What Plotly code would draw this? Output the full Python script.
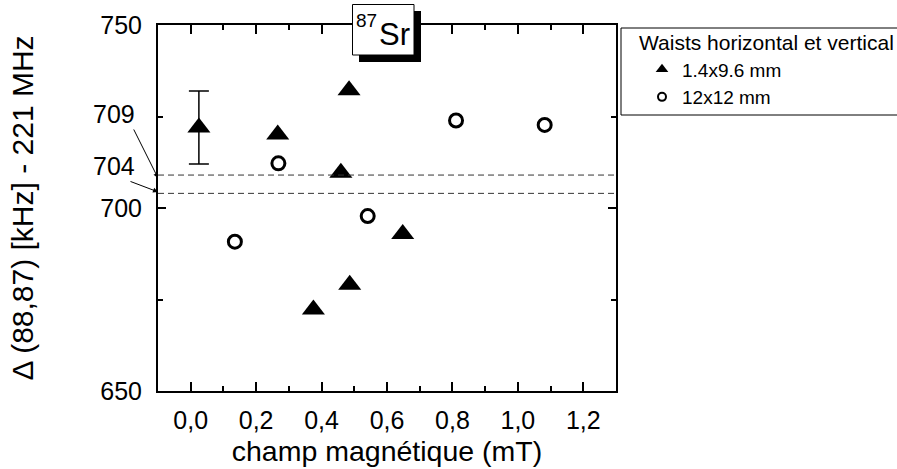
import plotly.graph_objects as go

# ---- data ----
tri_x = [0.025, 0.266, 0.459, 0.484, 0.375, 0.486, 0.648]
tri_y = [722.0, 720.1, 709.6, 732.2, 672.3, 679.0, 692.9]
err_index = 0          # only the first triangle carries an error bar
err_value = 10.0

circ_x = [0.135, 0.268, 0.541, 0.811, 1.082]
circ_y = [690.8, 712.2, 697.8, 723.9, 722.7]

ref_lines = [709, 704]
ref_labels = ["709", "704"]
x_ticks = [0.0, 0.2, 0.4, 0.6, 0.8, 1.0, 1.2]
x_tick_text = ["0,0", "0,2", "0,4", "0,6", "0,8", "1,0", "1,2"]
y_ticks = [650, 700, 750]

series_names = ["1.4x9.6 mm", "12x12 mm"]
legend_title = "Waists horizontal et vertical"

W, H = 897, 469
L, R, T, B = 158, 616, 25, 391
FONT = "Arial, Liberation Sans, sans-serif"


def px(xp):
    return (xp - L) / (R - L)


def py(yp):
    return (B - yp) / (B - T)


fig = go.Figure()

fig.add_trace(go.Scatter(
    x=[tri_x[err_index]], y=[tri_y[err_index]], mode="markers", showlegend=False,
    marker=dict(size=1, color="rgba(0,0,0,0)"),
    error_y=dict(type="constant", value=err_value, visible=True, color="black",
                 thickness=1.5, width=10),
))
fig.add_trace(go.Scatter(
    x=tri_x, y=tri_y, mode="markers", showlegend=False,
    marker=dict(symbol="triangle-up", size=20, color="black"),
))
fig.add_trace(go.Scatter(
    x=circ_x, y=circ_y, mode="markers", showlegend=False,
    marker=dict(symbol="circle-open", size=13, color="black",
                line=dict(width=3, color="black")),
))
# legend entries (smaller symbols as in the reference legend)
fig.add_trace(go.Scatter(
    x=[None], y=[None], mode="markers", name=series_names[0],
    marker=dict(symbol="triangle-up", size=11, color="black"),
))
fig.add_trace(go.Scatter(
    x=[None], y=[None], mode="markers", name=series_names[1],
    marker=dict(symbol="circle-open", size=8, color="black",
                line=dict(width=2, color="black")),
))

shapes = []
for v in ref_lines:
    shapes.append(dict(type="line", xref="paper", yref="y", x0=0, x1=1, y0=v, y1=v,
                       line=dict(color="#333333", width=1, dash="6px,4px")))
# 87Sr label box with shadow
shapes.append(dict(type="rect", xref="paper", yref="paper", layer="above",
                   x0=px(359), x1=px(421), y0=py(62), y1=py(11),
                   fillcolor="black", line=dict(width=0)))
shapes.append(dict(type="rect", xref="paper", yref="paper", layer="above",
                   x0=px(352.5), x1=px(414), y0=py(55), y1=py(4.5),
                   fillcolor="white", line=dict(color="black", width=1)))
# legend frame (runs off the right edge as in the reference)
shapes.append(dict(type="rect", xref="paper", yref="paper", layer="below",
                   x0=px(621), x1=px(910), y0=py(115), y1=py(28),
                   fillcolor="white", line=dict(color="black", width=1)))

annotations = [
    dict(text="87", xref="paper", yref="paper", x=px(366), y=py(20),
         xanchor="center", yanchor="middle",
         showarrow=False, font=dict(family=FONT, size=19, color="black")),
    dict(text="Sr", xref="paper", yref="paper", x=px(394.5), y=py(34),
         xanchor="center", yanchor="middle",
         showarrow=False, font=dict(family=FONT, size=31, color="black")),
]
# labels of the two dashed reference lines, with arrows pointing at them
label_pos = [(114, 114), (114, 166)]
arrow_tail = [(-25, -50), (-29, -11)]
arrow_head_y = [708.2, 704.4]
for txt, (lx, ly), (tx, ty), hy in zip(ref_labels, label_pos, arrow_tail, arrow_head_y):
    annotations.append(dict(text=txt, xref="paper", yref="paper", x=px(lx), y=py(ly),
                            xanchor="center", yanchor="middle", showarrow=False,
                            font=dict(family=FONT, size=25, color="black")))
    annotations.append(dict(text="", xref="paper", yref="y", x=0, y=hy,
                            ax=tx, ay=ty, showarrow=True, arrowhead=2, arrowsize=1,
                            arrowwidth=1, arrowcolor="black", standoff=0))

fig.update_layout(
    width=W, height=H,
    margin=dict(l=L, r=W - R, t=T, b=H - B, pad=0, autoexpand=False),
    paper_bgcolor="white", plot_bgcolor="white",
    font=dict(family=FONT, color="black", size=25),
    shapes=shapes, annotations=annotations,
    legend=dict(
        x=px(637), y=py(23), xanchor="left", yanchor="top",
        borderwidth=0, bgcolor="rgba(0,0,0,0)",
        font=dict(family=FONT, size=19, color="black"),
        title=dict(text=legend_title, font=dict(family=FONT, size=21, color="black")),
        tracegroupgap=0, itemwidth=30, indentation=5,
    ),
)

fig.update_xaxes(
    range=[-0.1, 1.3], tickvals=x_ticks, ticktext=x_tick_text,
    showgrid=False, zeroline=False,
    showline=True, linecolor="black", linewidth=2, mirror="allticks",
    ticks="inside", ticklen=9, tickwidth=1.5, tickcolor="black",
    ticklabelstandoff=6,
    minor=dict(dtick=0.1, tick0=0, ticks="inside", ticklen=5, tickwidth=1.5,
               tickcolor="black", showgrid=False),
    tickfont=dict(family=FONT, size=25),
    title=dict(text="champ magnétique (mT)", font=dict(family=FONT, size=28.5), standoff=8),
)
fig.update_yaxes(
    range=[650, 750], tickvals=y_ticks,
    showgrid=False, zeroline=False,
    showline=True, linecolor="black", linewidth=2, mirror="allticks",
    ticks="inside", ticklen=8, tickwidth=1.5, tickcolor="black",
    ticklabelstandoff=9,
    minor=dict(dtick=25, tick0=650, ticks="inside", ticklen=5, tickwidth=1.5,
               tickcolor="black", showgrid=False),
    tickfont=dict(family=FONT, size=25),
    title=dict(text="Δ (88,87) [kHz] - 221 MHz", font=dict(family=FONT, size=30), standoff=58),
)

fig.write_html("out.html", config={"displayModeBar": False},
               post_script="document.body.style.margin='0';")
